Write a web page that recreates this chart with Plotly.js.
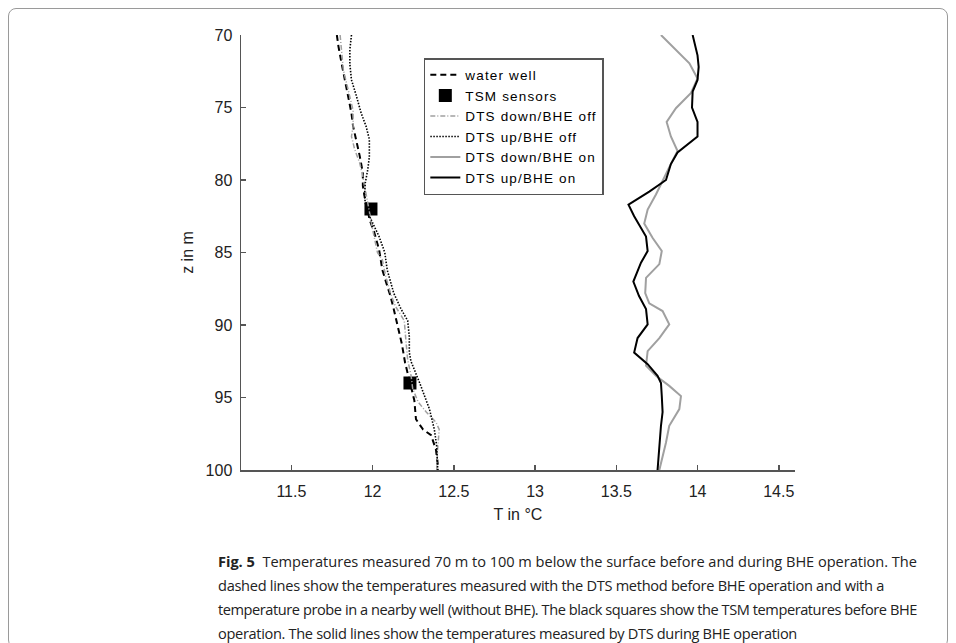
<!DOCTYPE html>
<html>
<head>
<meta charset="utf-8">
<script src="https://cdn.plot.ly/plotly-3.0.1.min.js"></script>
<style>
  html, body { margin: 0; padding: 0; background: #fff; width: 956px; height: 643px; overflow: hidden; }
  #frame { position: absolute; left: 8px; top: 8px; width: 940px; height: 640px; border: 1px solid #9a9a9a; border-radius: 8px; box-sizing: border-box; }
  #chart { position: absolute; left: 0; top: 0; width: 956px; height: 643px; }
  .cap { position: absolute; left: 218px; font-family: "Open Sans", "Noto Sans", sans-serif; font-size: 14.6px; line-height: 15px; color: #222; white-space: nowrap; }
  .cap span.b { font-weight: 700; }
  .legendtext { letter-spacing: 1.15px; }
</style>
</head>
<body>
<div id="frame"></div>
<div id="chart"></div>
<div class="cap" data-end="917" style="top:554px"><span class="b">Fig. 5</span>&nbsp;&nbsp;<span>Temperatures measured 70 m to 100 m below the surface before and during BHE operation. The</span></div>
<div class="cap" data-end="884" style="top:578px">dashed lines show the temperatures measured with the DTS method before BHE operation and with a</div>
<div class="cap" data-end="917" style="top:602px">temperature probe in a nearby well (without BHE). The black squares show the TSM temperatures before BHE</div>
<div class="cap" data-end="797" style="top:626px">operation. The solid lines show the temperatures measured by DTS during BHE operation</div>
<script>
// water well (temperature probe)
const wellZ = [70.0, 70.8, 72.0, 73.1, 74.2, 75.4, 76.3, 77.2, 78.3, 79.5, 80.4, 81.1, 82.0, 82.7, 83.6, 84.8, 86.2, 87.3, 88.0, 88.9, 90.3, 91.3, 92.6, 93.3, 94.0, 95.2, 96.5, 97.2, 97.6, 98.6, 99.5, 100.0];
const wellT = [11.78, 11.79, 11.81, 11.83, 11.85, 11.87, 11.88, 11.90, 11.92, 11.94, 11.94, 11.95, 11.97, 11.98, 12.01, 12.04, 12.06, 12.09, 12.11, 12.13, 12.16, 12.18, 12.20, 12.215, 12.23, 12.257, 12.267, 12.31, 12.36, 12.39, 12.40, 12.40];
// TSM sensors
const tsmZ = [82, 94];
const tsmT = [11.99, 12.23];
// DTS down / BHE off
const downOffZ = [70.0, 71.0, 72.4, 73.8, 75.2, 76.3, 77.0, 77.9, 78.8, 79.75, 80.7, 82.0, 83.4, 85.0, 85.5, 86.6, 87.8, 88.7, 89.7, 91.2, 92.4, 93.5, 94.4, 95.3, 96.0, 96.7, 97.2, 98.6, 100.0];
const downOffT = [11.80, 11.81, 11.82, 11.85, 11.88, 11.88, 11.87, 11.89, 11.92, 11.94, 11.955, 11.98, 12.00, 12.03, 12.06, 12.08, 12.11, 12.14, 12.195, 12.206, 12.216, 12.237, 12.247, 12.28, 12.33, 12.39, 12.41, 12.40, 12.395];
// DTS up / BHE off
const upOffZ = [70.0, 71.0, 72.0, 73.1, 74.2, 75.4, 76.3, 77.2, 78.4, 79.3, 80.2, 81.1, 82.0, 83.0, 83.9, 85.0, 86.2, 87.8, 88.9, 89.7, 90.8, 91.9, 92.5, 94.0, 95.8, 97.2, 98.3, 99.7, 100.0];
const upOffT = [11.87, 11.86, 11.86, 11.87, 11.90, 11.93, 11.96, 11.98, 11.98, 11.97, 11.955, 11.95, 11.96, 12.00, 12.04, 12.075, 12.09, 12.13, 12.175, 12.216, 12.226, 12.226, 12.236, 12.29, 12.35, 12.38, 12.394, 12.40, 12.40];
// DTS down / BHE on
const downOnZ = [70.0, 71.0, 71.95, 73.0, 74.0, 75.05, 76.0, 77.0, 78.0, 78.9, 80.1, 81.0, 82.04, 83.0, 84.0, 84.9, 85.8, 86.75, 87.8, 88.5, 89.04, 89.96, 90.9, 91.8, 92.8, 93.5, 94.2, 94.9, 95.8, 96.95, 98.1, 99.0, 100.0];
const downOnT = [13.775, 13.867, 13.95, 14.0, 13.96, 13.867, 13.81, 13.836, 13.877, 13.836, 13.785, 13.744, 13.693, 13.672, 13.724, 13.78, 13.765, 13.683, 13.678, 13.703, 13.785, 13.826, 13.765, 13.693, 13.683, 13.744, 13.826, 13.898, 13.888, 13.826, 13.806, 13.785, 13.765];
// DTS up / BHE on
const upOnZ = [70.0, 71.4, 72.2, 73.1, 73.9, 75.0, 76.0, 77.0, 78.1, 78.9, 80.0, 80.8, 81.7, 82.5, 83.9, 84.9, 85.7, 87.0, 88.0, 88.9, 89.96, 90.9, 91.9, 92.7, 93.5, 94.0, 94.9, 96.0, 96.95, 98.3, 100.0];
const upOnT = [13.97, 14.0, 14.007, 14.0, 13.97, 13.966, 14.0, 14.0, 13.877, 13.836, 13.806, 13.703, 13.575, 13.61, 13.683, 13.693, 13.652, 13.605, 13.64, 13.683, 13.693, 13.631, 13.61, 13.693, 13.754, 13.775, 13.78, 13.785, 13.775, 13.765, 13.754];

const xTicks = [11.5, 12, 12.5, 13, 13.5, 14, 14.5];
const yTicks = [70, 75, 80, 85, 90, 95, 100];

// fit caption lines to the reference line lengths
document.querySelectorAll('.cap').forEach(function (el) {
  const target = parseFloat(el.getAttribute('data-end')) - 218;
  const w = el.getBoundingClientRect().width;
  const n = el.textContent.length;
  el.style.letterSpacing = ((target - w) / n).toFixed(3) + 'px';
});

const traces = [
  {x: wellT, y: wellZ, name: 'water well', mode: 'lines', line: {color: '#000', width: 2, dash: '6px,4px'}},
  {x: tsmT, y: tsmZ, name: 'TSM sensors', mode: 'markers', marker: {symbol: 'square', size: 13, color: '#000'}},
  {x: downOffT, y: downOffZ, name: 'DTS down/BHE off', mode: 'lines', line: {color: '#a0a0a0', width: 1.5, dash: '5px,2px,1px,2px'}},
  {x: upOffT, y: upOffZ, name: 'DTS up/BHE off', mode: 'lines', line: {color: '#000', width: 1.6, dash: '1.5px,1.5px'}},
  {x: downOnT, y: downOnZ, name: 'DTS down/BHE on', mode: 'lines', line: {color: '#a0a0a0', width: 2}},
  {x: upOnT, y: upOnZ, name: 'DTS up/BHE on', mode: 'lines', line: {color: '#000', width: 2}}
];

const fam = 'Liberation Sans, Arial, sans-serif';
const axisFont = {family: fam, size: 16, color: '#222'};
const layout = {
  width: 956, height: 643,
  margin: {l: 241, r: 161, t: 35, b: 173},
  paper_bgcolor: 'rgba(0,0,0,0)', plot_bgcolor: 'rgba(0,0,0,0)',
  showlegend: true,
  legend: {
    x: 0.33, y: 0.947, xanchor: 'left', yanchor: 'top',
    bgcolor: '#fff', bordercolor: '#555', borderwidth: 1.5,
    font: {family: fam, size: 13.5, color: '#000'},
    tracegroupgap: 0, itemwidth: 30
  },
  xaxis: {
    range: [11.19, 14.6], tickvals: xTicks, ticktext: xTicks.map(String),
    showgrid: false, zeroline: false, showline: true, linecolor: '#555', linewidth: 1.5,
    ticks: 'inside', ticklen: 5, tickcolor: '#555', tickwidth: 1.5,
    tickfont: axisFont, ticklabelstandoff: 6,
    title: {text: 'T in °C', font: {family: fam, size: 16, color: '#222'}, standoff: 10}
  },
  yaxis: {
    range: [100, 70], tickvals: yTicks, ticktext: yTicks.map(String),
    showgrid: false, zeroline: false, showline: true, linecolor: '#555', linewidth: 1.5,
    ticks: 'inside', ticklen: 5, tickcolor: '#555', tickwidth: 1.5,
    tickfont: axisFont, ticklabelstandoff: 4,
    title: {text: 'z in m', font: {family: fam, size: 16, color: '#222'}, standoff: 8}
  }
};

Plotly.newPlot('chart', traces, layout, {displayModeBar: false, staticPlot: true});
</script>
</body>
</html>
